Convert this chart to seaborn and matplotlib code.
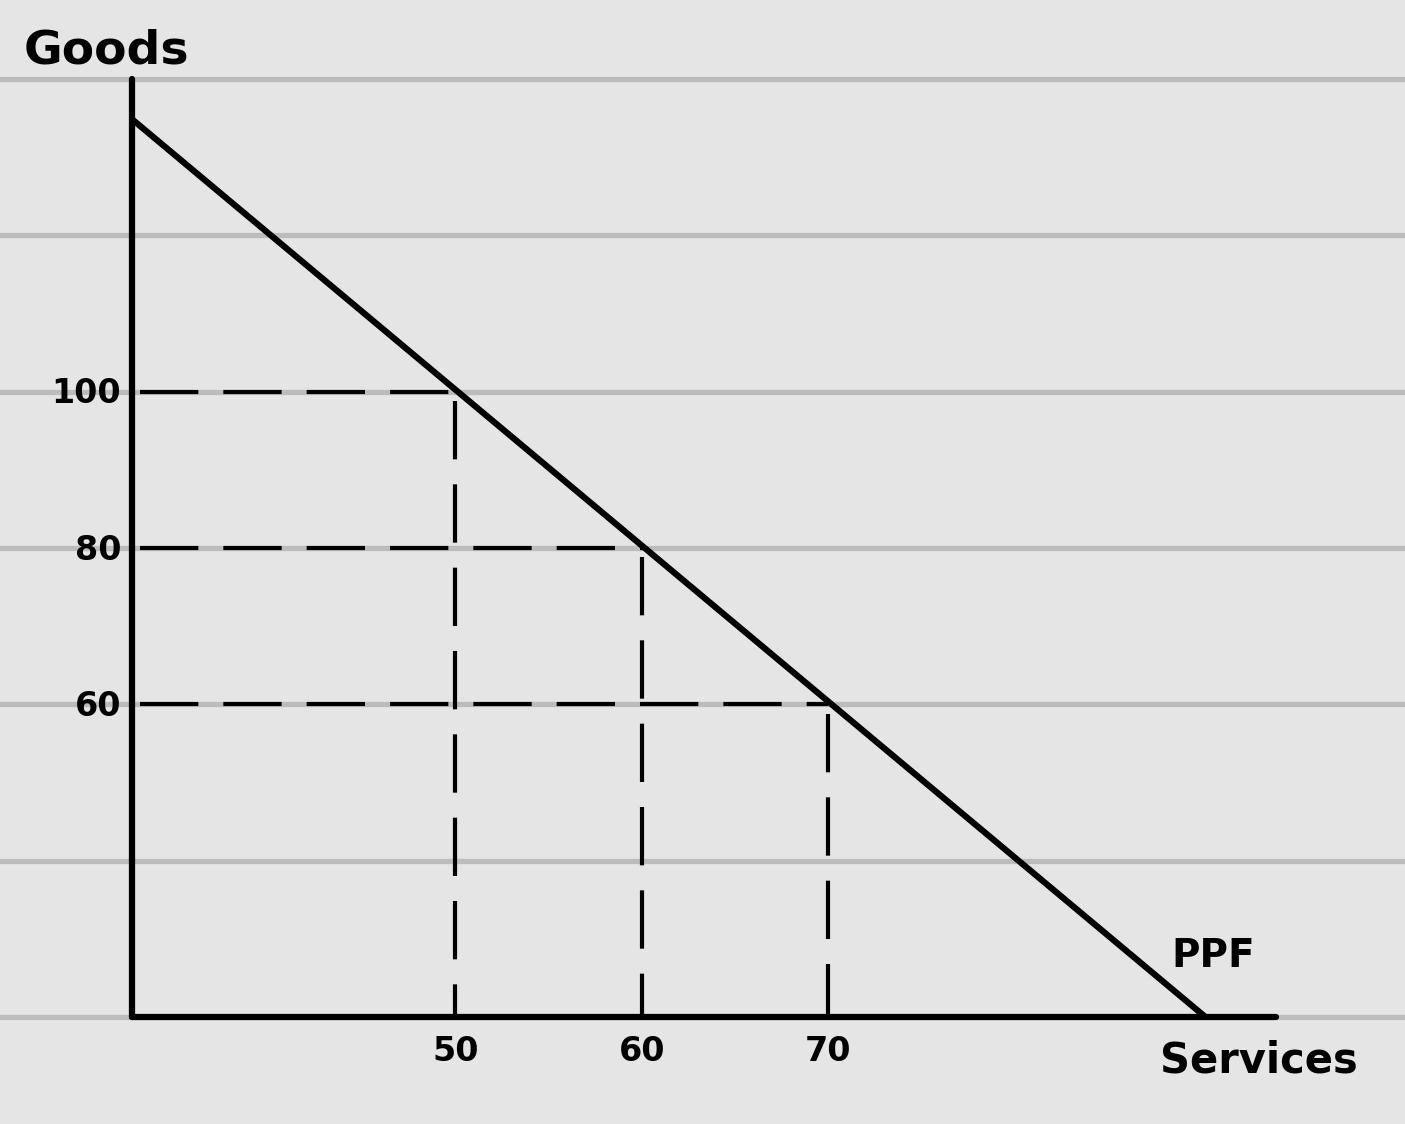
import matplotlib.pyplot as plt
import seaborn as sns
import pandas as pd

# points
services = [50, 60, 70]
goods = [100, 80, 60]
ppf_services = [32.7, 90.2]
ppf_goods = [134.8, 20]
ruled_lines = [20, 40, 60, 80, 100, 120, 140]
x_origin = 32.7
y_origin = 20

sns.set_theme(style='white', rc={'axes.facecolor': '#e5e5e5', 'figure.facecolor': '#e5e5e5'})
plt.rcParams['font.family'] = ['DejaVu Sans']

fig = plt.figure(figsize=(14.05, 11.24), dpi=100)
ax = fig.add_axes([0, 0, 1, 1])
ax.set_xlim(25.6, 100.9)
ax.set_ylim(6.3, 150.1)
ax.axis('off')

# notebook ruling
for y in ruled_lines:
    ax.axhline(y, color='#bcbcbc', lw=3.8, zorder=0)

# axes
ax.plot([x_origin, x_origin], [y_origin, 140], color='black', lw=4.5, solid_capstyle='round')
ax.plot([x_origin, 94], [y_origin, y_origin], color='black', lw=4.5, solid_capstyle='round')

ppf = pd.DataFrame({'services': ppf_services, 'goods': ppf_goods})
sns.lineplot(data=ppf, x='services', y='goods', color='black', lw=4.5, ax=ax)

# dashed guides
for s, g in zip(services, goods):
    ax.plot([x_origin + 0.4, s], [g, g], color='black', lw=3, dashes=(14, 6))
    ax.plot([s, s], [g - 1.2, y_origin], color='black', lw=3, dashes=(14, 6))

font = dict(color='black', fontweight='bold')
for s in services:
    ax.text(s, 15.6, str(s), ha='center', va='center', fontsize=24, **font)
for g in goods:
    ax.text(32.1, g - 0.3, str(g), ha='right', va='center', fontsize=24, **font)

ax.text(31.3, 143.6, 'Goods', ha='center', va='center', fontsize=34, **font)
ax.text(93.05, 14.4, 'Services', ha='center', va='center', fontsize=30, **font)
ax.text(90.6, 27.8, 'PPF', ha='center', va='center', fontsize=28, **font)

plt.savefig('out.png', dpi=100)
